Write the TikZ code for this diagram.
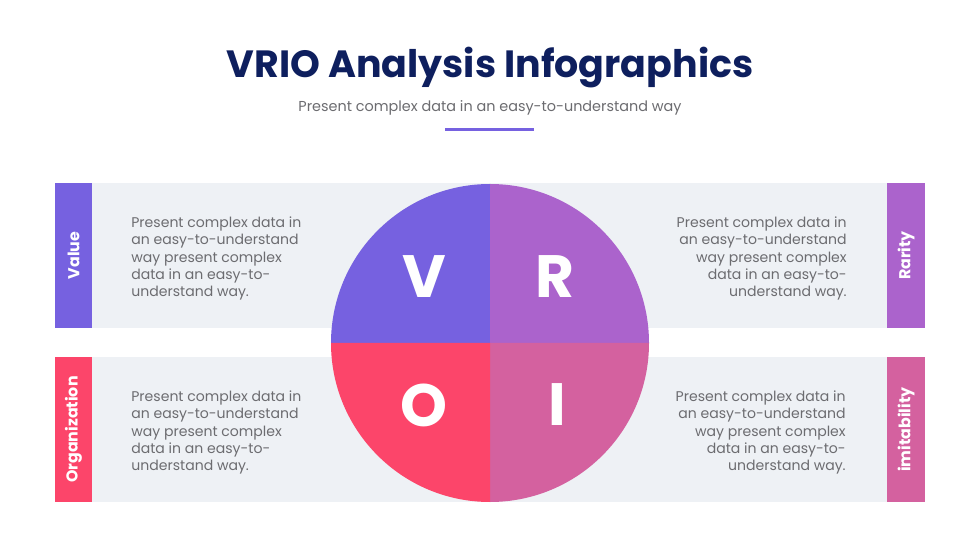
\documentclass[tikz,border=0pt]{standalone}
\usepackage{fontspec}
\setmainfont{Poppins}
\definecolor{valcol}{RGB}{118,97,224}
\definecolor{rarcol}{RGB}{171,99,204}
\definecolor{orgcol}{RGB}{252,69,106}
\definecolor{imicol}{RGB}{212,97,159}
\definecolor{panelgrey}{RGB}{238,241,245}
\definecolor{titlenavy}{RGB}{14,31,94}
\definecolor{bodygrey}{RGB}{108,108,112}

\begin{document}
\begin{tikzpicture}[x=0.02cm,y=0.02cm,
		tabtext/.style={text=white,font=\fontsize{9}{11}\selectfont\bfseries,rotate=90},
		body/.style={text=bodygrey,font=\fontsize{8}{9.8}\selectfont,inner sep=0pt},
		letter/.style={text=white,font=\fontsize{34}{34}\selectfont\bfseries}]
		%%%%% START %%%%%
		\useasboundingbox[fill=white] (0,0) rectangle (980,551);
		
		\node[text=titlenavy,font=\fontsize{21.6}{24}\selectfont\bfseries] (title) at (490,483) {VRIO Analysis Infographics};
		\node[text=bodygrey,font=\fontsize{8.2}{10}\selectfont] (subtitle) at (490,443) {Present complex data in an easy-to-understand way};
		\draw[line width=0.06cm, color=valcol] (445,421) -- (534,421);
		
		% panels
		\fill[panelgrey] (55,223) rectangle (925,368);
		\fill[panelgrey] (55,49) rectangle (925,194);
		
		\fill[valcol] (55,223) rectangle (92,368);
		\fill[rarcol] (887,223) rectangle (925,368);
		\fill[orgcol] (55,49) rectangle (92,194);
		\fill[imicol] (887,49) rectangle (925,194);
		
		\node[tabtext] (value) at (73.5,295.5) {Value};
		\node[tabtext] (rarity) at (906,295.5) {Rarity};
		\node[tabtext] (organization) at (73.5,121.5) {Organization};
		\node[tabtext] (imitability) at (906,121.5) {imitability};
		
		% circle
		\fill[valcol] (490,208) -- (331,208) arc (180:90:159) -- cycle;
		\fill[rarcol] (490,208) -- (490,367) arc (90:0:159) -- cycle;
		\fill[imicol] (490,208) -- (649,208) arc (0:-90:159) -- cycle;
		\fill[orgcol] (490,208) -- (490,49) arc (-90:-180:159) -- cycle;
		
		\node[letter] (V) at (424,274) {V};
		\node[letter] (R) at (555,274) {R};
		\node[letter] (O) at (424,146) {O};
		\node[letter] (I) at (557,146) {I};
		
		% texts
		\node[body,anchor=west,align=left] (valtext) at (131,292.5) {Present complex data in\\an easy-to-understand\\way present complex\\data in an easy-to-\\understand way.};
		\node[body,anchor=east,align=right] (rartext) at (847,292.5) {Present complex data in\\an easy-to-understand\\way present complex\\data in an easy-to-\\understand way.};
		\node[body,anchor=west,align=left] (orgtext) at (131,118.5) {Present complex data in\\an easy-to-understand\\way present complex\\data in an easy-to-\\understand way.};
		\node[body,anchor=east,align=right] (imitext) at (846,118.5) {Present complex data in\\an easy-to-understand\\way present complex\\data in an easy-to-\\understand way.};
		
		%%%%% END %%%%%
\end{tikzpicture}
\end{document}
